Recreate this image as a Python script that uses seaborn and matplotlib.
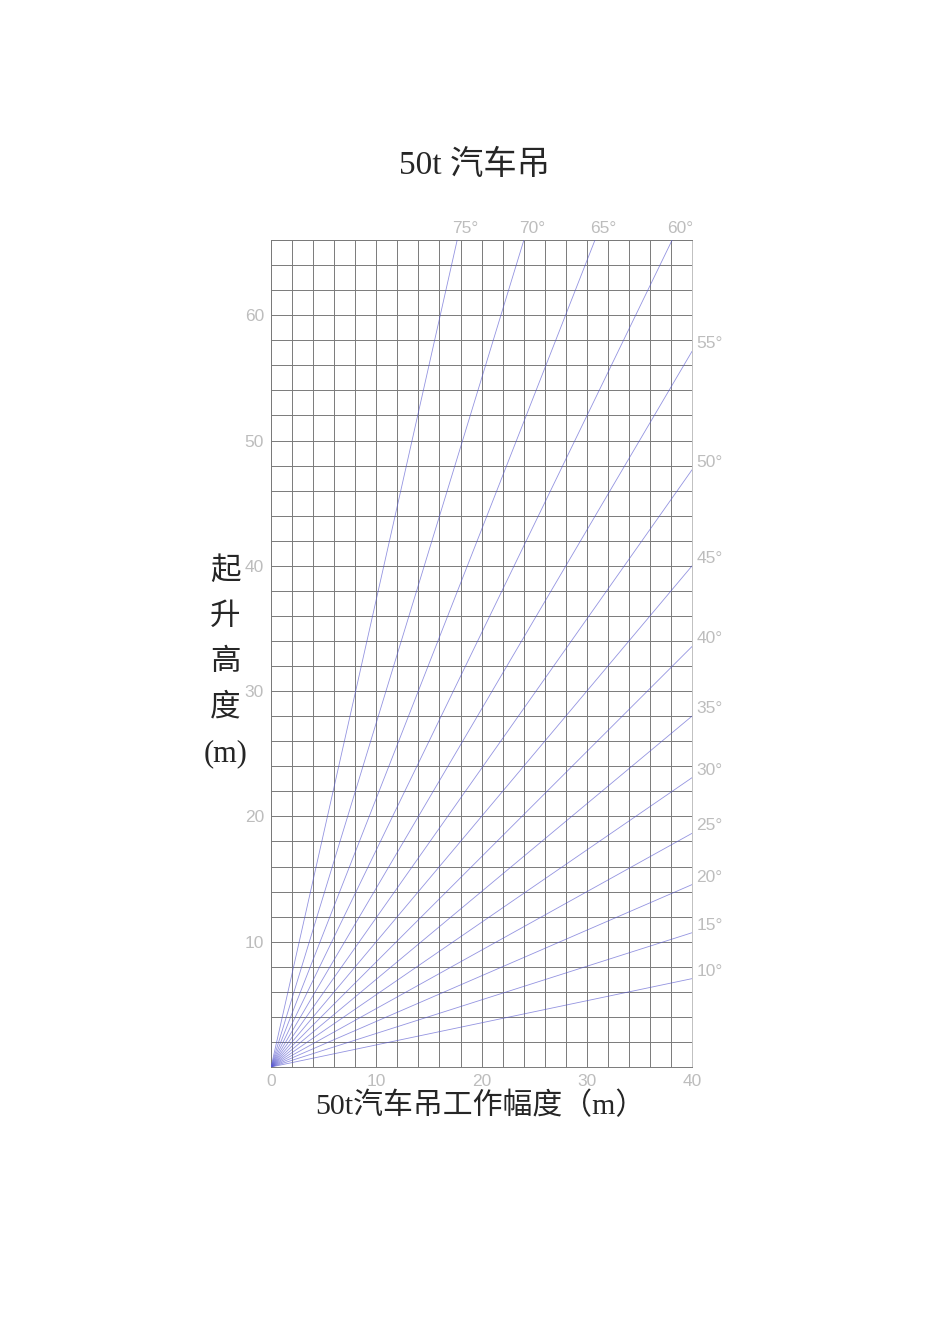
import numpy as np
import pandas as pd
import seaborn as sns
import matplotlib.pyplot as plt
from matplotlib.ticker import MultipleLocator

# boom angles (deg) drawn as rays from the origin
angles = [10, 15, 20, 25, 30, 35, 40, 45, 50, 55, 60, 65, 70, 75]
x_max = 40
y_max = 66
x_ticks = [0, 10, 20, 30, 40]
y_ticks = [10, 20, 30, 40, 50, 60]

title = '50t 汽车吊'
x_label = '50t汽车吊工作幅度（m）'
y_label = '起\n升\n高\n度\n(m)'

sns.set_style('white')
cjk = ['Liberation Serif', 'Noto Sans CJK SC', 'DejaVu Sans']
thin = ['Liberation Sans Narrow', 'Liberation Sans', 'DejaVu Sans']

rows = []
for a in angles:
    t = np.tan(np.radians(a))
    xe = min(x_max, y_max / t)
    rows.append({'angle': a, 'x': 0.0, 'y': 0.0})
    rows.append({'angle': a, 'x': xe, 'y': xe * t})
rays = pd.DataFrame(rows)

fig = plt.figure(figsize=(9.5, 13.44), dpi=100)
ax = fig.add_axes([0.2853, 0.2061, 0.4432, 0.6153])

sns.lineplot(data=rays, x='x', y='y', units='angle', estimator=None, sort=False,
             color='#5a5ad0', lw=0.6, alpha=0.65, ax=ax, zorder=3)

ax.set_xlim(0, x_max)
ax.set_ylim(0, y_max)
ax.xaxis.set_major_locator(MultipleLocator(10))
ax.xaxis.set_minor_locator(MultipleLocator(2))
ax.yaxis.set_major_locator(MultipleLocator(10))
ax.yaxis.set_minor_locator(MultipleLocator(2))
ax.grid(True, which='both', color='#7a7a7a', lw=0.7)
ax.set_axisbelow(True)
for s in ax.spines.values():
    s.set_color('#7a7a7a')
    s.set_linewidth(0.7)
ax.spines['right'].set_color('#c0c0c0')

ax.set_xticks(x_ticks)
ax.set_yticks(y_ticks)
ax.tick_params(length=0, colors='#bdbdbd', labelsize=12.5, pad=5)
for lab in ax.get_xticklabels() + ax.get_yticklabels():
    lab.set_family(thin)
ax.set_xlabel('')
ax.set_ylabel('')

# angle labels at ray ends
for a in angles:
    t = np.tan(np.radians(a))
    xe = min(x_max, y_max / t)
    ye = xe * t
    if xe < x_max:
        ax.text(xe + 0.8, ye + 0.3, f'{a}°', ha='center', va='bottom',
                color='#bdbdbd', fontsize=12.5, family=thin, clip_on=False)
    else:
        ax.text(xe + 0.4, ye + 0.6, f'{a}°', ha='left', va='center',
                color='#bdbdbd', fontsize=12.5, family=thin, clip_on=False)

fig.text(0.5, 0.877, title, ha='center', va='center', fontsize=24, family=cjk)
fig.text(0.506, 0.177, x_label, ha='center', va='center', fontsize=21.5, family=cjk)
fig.text(0.237, 0.507, y_label, ha='center', va='center', fontsize=22, family=cjk,
         linespacing=1.75)

fig.savefig('out.png', dpi=100)
